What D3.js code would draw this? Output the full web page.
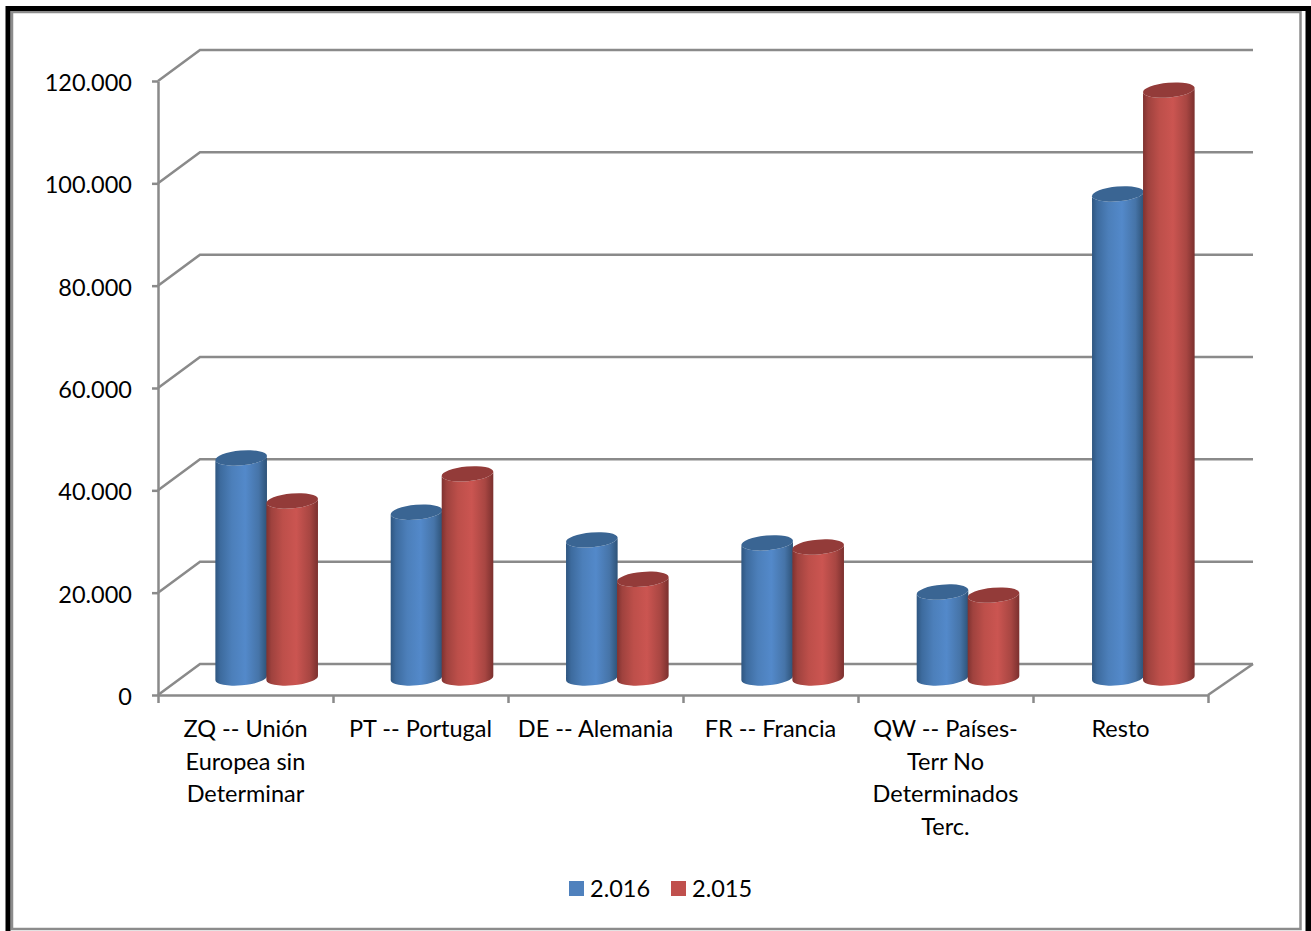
<!DOCTYPE html>
<html><head><meta charset="utf-8">
<script src="https://cdn.jsdelivr.net/npm/d3@7"></script>
<style>html,body{margin:0;padding:0;background:#fff}svg{display:block}text{font-family:Lato,"Open Sans",sans-serif;fill:#000}</style>
</head><body><svg id="c" width="1311" height="931"></svg>
<script>
const categories = ["ZQ","PT","DE","FR","QW","Resto"];
const categoryLabels = [
  ["ZQ -- Unión","Europea sin","Determinar"],
  ["PT -- Portugal"],
  ["DE -- Alemania"],
  ["FR -- Francia"],
  ["QW -- Países-","Terr No","Determinados","Terc."],
  ["Resto"]
];
const seriesNames = ["2.016","2.015"];
const values2016 = [43000,32400,27000,26400,16800,94600];
const values2015 = [34600,39900,19300,25600,16200,114900];
const yTicks = [0,20000,40000,60000,80000,100000,120000];
const seriesValues = [values2016,values2015];
const bodyStops = [
  [["0%","#2f5680"],["10%","#3d6b9e"],["32%","#4c7fba"],["58%","#5389ca"],["84%","#4674a8"],["100%","#2e5378"]],
  [["0%","#7f3230"],["10%","#9f423e"],["32%","#bd4f4a"],["58%","#cb5551"],["84%","#a84642"],["100%","#7b302e"]]
];
const topColors = ["#3a6593","#933b39"];
const legendColors = ["#4f81bd","#c0504d"];

const svg = d3.select("#c");
const gray = "#8a8a8a";
const M = {left:158,right:1208,top:81,bottom:695};
const depthX = 42, depthY = -31;
const barOffsetX = 21, barOffsetY = -17;

// frame
svg.append("rect").attr("x",12).attr("y",12).attr("width",1288.5).attr("height",917)
  .attr("fill","#fff").attr("stroke","#8c8c8c").attr("stroke-width",2.5);
svg.append("rect").attr("x",8).attr("y",8.5).attr("width",1300).attr("height",940)
  .attr("fill","none").attr("stroke","#000").attr("stroke-width",5);
svg.append("rect").attr("x",1306).attr("y",6).attr("width",5).attr("height",925).attr("fill","#000");

const x = d3.scaleBand().domain(categories).range([M.left,M.right]);
const xBars = d3.scaleBand().domain(categories).range([M.left,M.right+2]);
const y = d3.scaleLinear().domain([0,120000]).range([M.bottom,M.top]);
const xs = d3.scaleBand().domain([0,1]).range([-51,51]);
const loc = d3.formatLocale({decimal:",",thousands:".",grouping:[3],currency:["",""]});
const fmt = loc.format(",d");

// walls
const wall = svg.append("g").attr("fill","none").attr("stroke",gray).attr("stroke-width",2.5);
yTicks.forEach(t=>{
  wall.append("polyline").attr("points",[[M.left,y(t)],[M.left+depthX,y(t)+depthY],[M.right+45,y(t)+depthY]].map(p=>p.join(",")).join(" "));
});
wall.append("line").attr("x1",M.right).attr("y1",M.bottom).attr("x2",M.right+45).attr("y2",M.bottom+depthY);

// axes
const yAxis = d3.axisLeft(y).tickValues(yTicks).tickFormat(t=>fmt(t)).tickSize(6).tickSizeOuter(0);
const gy = svg.append("g").attr("transform",`translate(${M.left},0)`).call(yAxis);
gy.selectAll("line,path").attr("stroke",gray).attr("stroke-width",2.5);
gy.selectAll("text").attr("font-size",23.5).attr("x",-26).attr("dy",null).attr("y",9.5).attr("fill","#000").style("font-family",'Lato,"Open Sans",sans-serif');

const boundaries = categories.map(c=>x(c)).concat([M.right]);
const xLine = d3.scaleLinear().domain([M.left,M.right]).range([M.left,M.right]);
const xAxis = d3.axisBottom(xLine).tickValues(boundaries).tickFormat("").tickSize(8).tickSizeOuter(0);
const gx = svg.append("g").attr("transform",`translate(0,${M.bottom})`).call(xAxis);
gx.selectAll("line,path").attr("stroke",gray).attr("stroke-width",2.5);

// gradients
const defs = svg.append("defs");
bodyStops.forEach((st,i)=>{
  const g = defs.append("linearGradient").attr("id","g"+i).attr("x1","0").attr("x2","1").attr("y1","0").attr("y2","0");
  st.forEach(s=>g.append("stop").attr("offset",s[0]).attr("stop-color",s[1]));
});

// cylinders
const rx=25.9, ry=7.4, rot=-5, ca=Math.cos(rot*Math.PI/180), sa=Math.sin(rot*Math.PI/180);
categories.forEach((c,ci)=>{
  seriesValues.forEach((vals,si)=>{
    const cx = xBars(c)+xBars.bandwidth()/2+barOffsetX+xs(si)+xs.bandwidth()/2;
    const yb = y(0)+barOffsetY, yt = y(vals[ci])+barOffsetY;
    const lx=cx-rx*ca, rxp=cx+rx*ca, dy=rx*sa;
    svg.append("path")
      .attr("d",`M${lx},${yt-dy} L${lx},${yb-dy} A${rx},${ry} ${rot} 0 0 ${rxp},${yb+dy} L${rxp},${yt+dy} A${rx},${ry} ${rot} 0 1 ${lx},${yt-dy} Z`)
      .attr("fill",`url(#g${si})`);
    svg.append("ellipse").attr("rx",rx).attr("ry",ry)
      .attr("transform",`translate(${cx},${yt}) rotate(${rot})`).attr("fill",topColors[si]);
  });
});

// category labels
const lab = svg.append("g").attr("text-anchor","middle").attr("font-size",23.5);
categories.forEach((c,i)=>{
  categoryLabels[i].forEach((ln,j)=>{
    lab.append("text").attr("x",x(c)+x.bandwidth()/2).attr("y",737+j*32.5).text(ln);
  });
});

// legend
const legendX = d3.scaleOrdinal().domain(seriesNames).range([569,671]);
seriesNames.forEach((s,i)=>{
  svg.append("rect").attr("x",legendX(s)).attr("y",881).attr("width",15).attr("height",15).attr("fill",legendColors[i]);
  svg.append("text").attr("x",legendX(s)+21).attr("y",897).attr("font-size",23.5).text(s);
});
</script></body></html>
